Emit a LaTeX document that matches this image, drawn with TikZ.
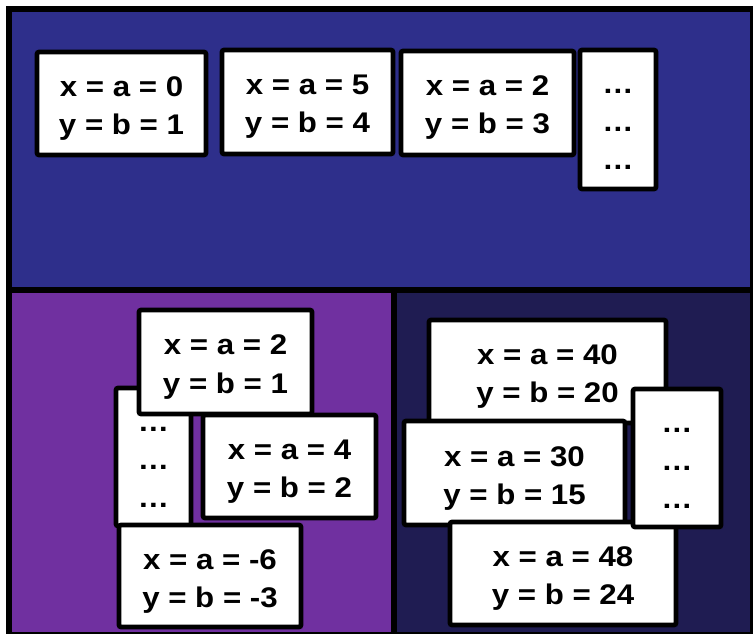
\documentclass[tikz,border=0pt]{standalone}
\usepackage{fontspec}
\setmainfont{Liberation Sans}[FakeStretch=1.1]
\usepackage{tikz}
\definecolor{topblue}{RGB}{46,47,139}
\definecolor{leftpurple}{RGB}{112,48,160}
\definecolor{rightnavy}{RGB}{31,28,82}
% struts that fix where the text sits in a card
\newcommand{\cardtop}{\rule{0pt}{23pt}}
\newcommand{\cardbot}{\rule[-5pt]{0pt}{5pt}}

\begin{document}
\begin{tikzpicture}[x=0.75pt,y=-0.75pt,
  every node/.style={font=\fontsize{21.3}{28.5}\selectfont\bfseries,align=center},
  panel/.style={draw=black,line width=4.5pt},
  card/.style 2 args={draw=black,fill=white,line width=3.5pt,rounded corners=1.5pt,inner sep=0pt,
    minimum width=#1*0.75pt,minimum height=#2*0.75pt}]
\clip (0,0) rectangle (753,634);
% panels
\draw[panel,fill=topblue] (9,9) rectangle (753,290);
\draw[panel,fill=leftpurple] (9,290) rectangle (393.5,635);
\draw[panel,fill=rightnavy] (393.5,290) rectangle (753,635);
% top row
\node[card={169}{103}] (top0) at (121.5,103.5) {\cardtop x = a = 0\\y = b = 1\cardbot};
\node[card={171}{104}] (top5) at (307.5,102) {\cardtop x = a = 5\\y = b = 4\cardbot};
\node[card={173}{104}] (top2) at (487.5,103) {\cardtop x = a = 2\\y = b = 3\cardbot};
\node[card={76}{139}] (topdots) at (618,119.5) {\cardtop …\\…\\…\cardbot};
% left group
\node[card={75}{138}] (leftdots) at (153.5,457) {\cardtop …\\…\\…\cardbot};
\node[card={173}{104}] (left2) at (225.5,362) {\cardtop x = a = 2\\y = b = 1\cardbot};
\node[card={173}{103}] (left4) at (289.5,466.5) {\cardtop x = a = 4\\y = b = 2\cardbot};
\node[card={182}{102}] (leftm6) at (210,576) {\cardtop x = a = -6\\y = b = -3\cardbot};
% right group
\node[card={237}{103}] (right40) at (547.5,371.5) {\cardtop x = a = 40\\y = b = 20\cardbot};
\node[card={221}{104}] (right30) at (514.5,473) {\cardtop x = a = 30\\y = b = 15\cardbot};
\node[card={226}{103}] (right48) at (563,573.5) {\cardtop x = a = 48\\y = b = 24\cardbot};
\node[card={88}{138}] (rightdots) at (677,458) {\cardtop …\\…\\…\cardbot};
\end{tikzpicture}
\end{document}
